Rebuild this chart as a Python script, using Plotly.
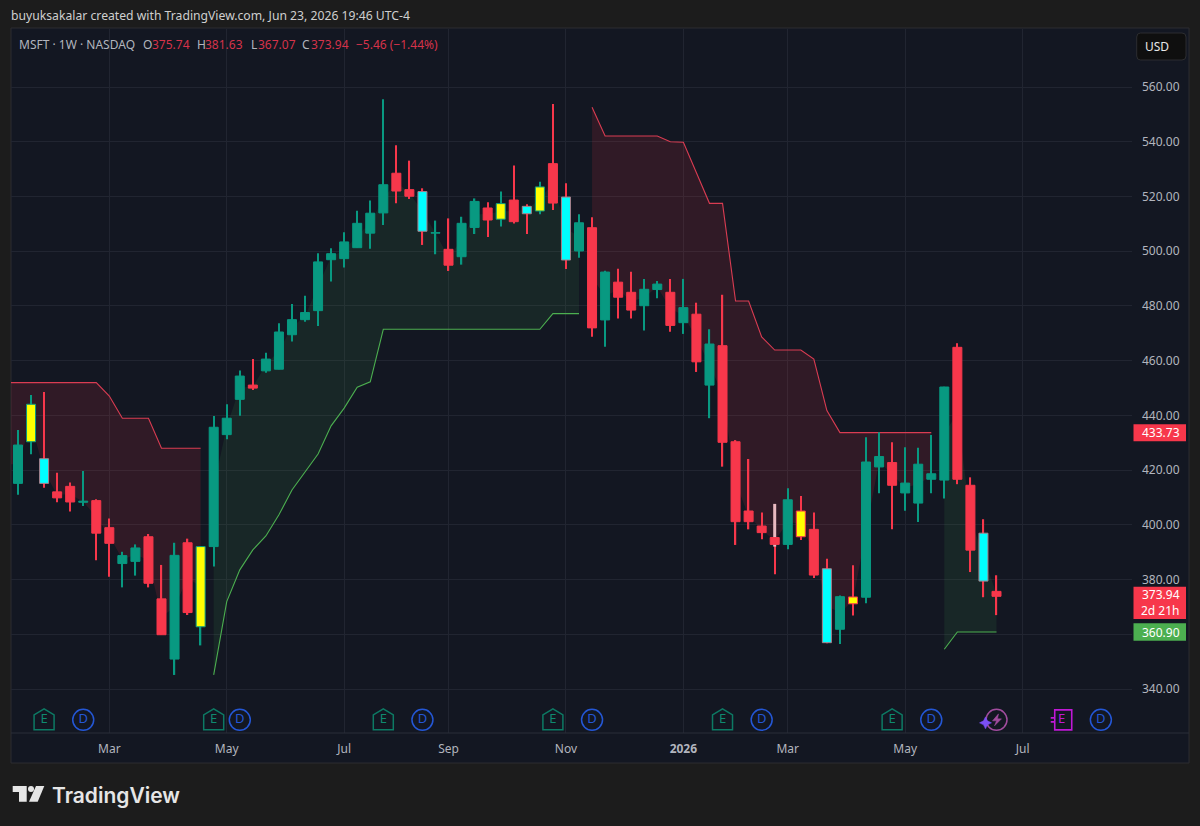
import datetime as dt
import plotly.graph_objects as go

# ---------- data (weekly MSFT candles) ----------
first_week = dt.date(2025, 1, 13)
opens = [415.2,430.4,424.2,412.1,414.1,408.3,408.9,399.0,385.9,386.7,395.7,373.0,351.0,393.5,362.8,392.1,433.0,445.9,451.1,456.3,
         456.9,469.5,475.0,478.3,496.9,497.3,501.3,506.6,514.0,528.5,522.5,521.8,506.6,500.7,498.0,508.7,515.8,511.7,518.7,516.4,
         514.7,532.0,519.8,500.1,508.6,474.9,488.7,485.0,480.1,486.0,485.0,473.9,477.0,451.1,465.5,430.4,405.1,399.6,395.4,392.9,
         405.1,398.4,384.0,361.9,373.7,373.6,421.2,422.8,411.7,408.0,416.7,416.4,464.9,414.5,397.0,375.74]
highs = [434.7,447.5,448.6,419.1,415.5,419.7,409.4,402.4,390.2,392.9,396.7,385.4,393.5,395.0,392.3,439.8,444.1,456.4,460.6,462.9,
         473.7,480.7,483.7,499.3,501.1,506.9,514.8,518.5,555.5,538.7,533.1,523.0,511.2,512.0,512.6,519.3,517.9,521.8,531.3,517.2,
         525.4,553.8,524.8,513.5,512.4,492.9,493.6,492.5,489.9,489.1,489.9,489.9,481.2,471.5,484.1,431.0,424.1,404.6,407.7,413.4,
         410.6,404.6,387.7,374.2,385.3,432.0,433.9,430.2,428.4,428.2,432.9,450.5,466.4,417.4,402.1,381.63]
lows = [411.0,425.8,413.6,408.3,404.9,406.9,387.1,381.1,377.2,381.5,377.2,359.9,345.2,367.1,356.0,384.8,431.3,439.9,449.3,455.6,
        456.9,467.0,474.2,472.7,488.9,494.1,501.3,500.9,509.6,517.5,519.1,502.3,498.9,492.8,495.1,506.3,505.2,509.0,510.1,506.3,
        513.5,515.1,493.5,497.6,468.8,465.1,475.4,475.4,471.0,482.8,470.6,469.8,455.9,439.0,421.3,392.7,398.4,394.8,382.0,391.1,
        394.5,380.6,356.8,356.5,366.9,371.4,411.6,398.4,405.2,401.1,411.6,409.7,414.9,382.8,373.6,367.07]
closes = [429.2,444.1,415.2,409.9,408.4,408.7,397.0,393.3,388.8,391.6,378.7,359.9,388.9,368.0,392.1,435.7,439.0,454.4,450.0,460.6,
          470.5,475.0,477.6,496.1,499.1,503.4,510.2,513.9,524.3,522.0,520.1,507.3,506.8,494.9,510.2,518.2,511.4,517.4,510.8,513.7,
          523.5,517.6,496.8,510.4,472.0,492.4,483.2,478.5,486.1,488.0,472.9,479.4,459.6,466.1,430.2,401.2,401.2,397.2,392.9,409.2,
          395.7,381.7,357.0,373.8,371.2,423.0,425.0,414.5,415.3,422.2,418.7,450.4,416.7,390.8,379.5,373.94]
yellow_weeks = [1, 14, 37, 40, 60, 64]
cyan_weeks = [2, 31, 39, 42, 62, 74]
pale_week = 58
pale_low, pale_high = 392.1, 407.7

# supertrend segments: (first week index, values)
st_down_a = (-1, [452.0]*8 + [447.1, 439.0, 439.0, 439.0, 428.0, 428.0, 428.0, 428.0])
st_up_a = (15, [345.2,372.0,383.6,390.9,396.0,403.7,412.8,419.4,425.9,436.2,442.7,450.3,452.3] + [471.5]*13 + [477.2]*3)
st_down_b = (44, [552.6,542.1,542.1,542.1,542.1,542.1,540.0,539.8,528.7,517.5,517.5,481.8,481.8,468.7,463.9,463.9,463.9,460.6,441.8] + [433.73]*8)
st_up_b = (71, [354.6, 360.9, 360.9, 360.9, 360.9])

earnings_weeks = [2, 15, 28, 41, 54, 67]
dividend_weeks = [5, 17, 31, 44, 57, 70]
future_earnings_week = 80
future_dividend_week = 83
latest_event_week = 75

x_tick_weeks = [7, 16, 25, 33, 42, 51, 59, 68, 77]
x_tick_text = ["Mar", "May", "Jul", "Sep", "Nov", "<b>2026</b>", "Mar", "May", "Jul"]
y_ticks = list(range(340, 561, 20))

# ---------- style ----------
BG, PANEL, GRID, FRAME = "#1c1c1c", "#131722", "#212531", "#2c2d30"
UP, DOWN, YEL, CYAN, PALE = "#089981", "#f7374b", "#ffff00", "#00ffff", "#e9b9c0"
TXT, SOFT = "#d1d4dc", "#b2b5be"
FONT = "Noto Sans"
L, R, T, B = 11, 1132, 29, 733
EVENT_Y = 328.8

def week(i):
    return (first_week + dt.timedelta(days=7 * i)).isoformat()

def px(x):
    return (x - L) / (R - L)

def py(y):
    return 1 - (y - T) / (B - T)

DAY_PX = 13.047 / 7
def width_ms(pixels):
    return pixels / DAY_PX * 86400000

n = len(opens)
dates = [week(i) for i in range(n)]
mid = [(o + c) / 2 for o, c in zip(opens, closes)]
rising = [c >= o for o, c in zip(opens, closes)]
dir_col = [UP if r else DOWN for r in rising]
body_col = list(dir_col)
for i in yellow_weeks:
    body_col[i] = YEL
for i in cyan_weeks:
    body_col[i] = CYAN
border_col = list(dir_col)
for i in cyan_weeks:
    border_col[i] = "#a8808c"

fig = go.Figure()

# supertrend band, under the candles
def band(seg, colour, fill):
    start, vals = seg
    idx = list(range(start, start + len(vals)))
    xs = [week(i) for i in idx]
    base = [mid[max(i, 0)] for i in idx]
    fig.add_trace(go.Scatter(x=xs, y=base, mode="lines", line=dict(width=0), hoverinfo="skip", showlegend=False))
    fig.add_trace(go.Scatter(x=xs, y=vals, mode="lines", line=dict(color=colour, width=1.1), fill="tonexty",
                             fillcolor=fill, hoverinfo="skip", showlegend=False))

RF, GF = "rgba(242,54,69,0.135)", "rgba(76,175,80,0.11)"
RL, GL = "#d93c52", "#4caf50"
band(st_down_a, RL, RF)
band(st_up_a, GL, GF)
band(st_down_b, RL, RF)
band(st_up_b, GL, GF)

# candles: on an overlaid y axis so they sit above the bands
fig.add_trace(go.Bar(x=dates, y=[h - l for h, l in zip(highs, lows)], base=lows, width=width_ms(1.3),
                     marker=dict(color=dir_col, line=dict(width=0)), yaxis="y2", showlegend=False))
fig.add_trace(go.Bar(x=[dates[pale_week]], y=[pale_high - pale_low], base=[pale_low], width=width_ms(3),
                     marker=dict(color=PALE, line=dict(width=0)), yaxis="y2", showlegend=False))
fig.add_trace(go.Bar(x=dates, y=[abs(c - o) for o, c in zip(opens, closes)], base=[min(o, c) for o, c in zip(opens, closes)],
                     width=width_ms(9.0), marker=dict(color=body_col, line=dict(color=border_col, width=1)),
                     yaxis="y2", showlegend=False))

# event badges
DBLUE = "#2457d6"
fig.add_trace(go.Scatter(x=[week(i) for i in dividend_weeks + [future_dividend_week]],
                         y=[EVENT_Y] * (len(dividend_weeks) + 1), mode="markers+text", text=["D"] * (len(dividend_weeks) + 1),
                         textfont=dict(color=DBLUE, size=13, family=FONT), textposition="middle center",
                         marker=dict(symbol="circle-open", size=21, color=DBLUE, line=dict(width=1.5, color=DBLUE)),
                         yaxis="y2", showlegend=False, hoverinfo="skip"))
fig.add_trace(go.Scatter(x=[week(i) for i in earnings_weeks], y=[EVENT_Y] * len(earnings_weeks), mode="text",
                         text=["E"] * len(earnings_weeks), textfont=dict(color="#0f8a70", size=13, family=FONT),
                         textposition="middle center", yaxis="y2", showlegend=False, hoverinfo="skip"))
fig.add_trace(go.Scatter(x=[week(future_earnings_week)], y=[EVENT_Y], mode="text", text=["E"],
                         textfont=dict(color="#c018d6", size=13, family=FONT), textposition="middle center",
                         yaxis="y2", showlegend=False, hoverinfo="skip"))
fig.add_trace(go.Scatter(x=[week(latest_event_week)], y=[EVENT_Y], mode="markers",
                         marker=dict(symbol="circle-open", size=21, color="#a14c9e", line=dict(width=1.5, color="#a14c9e")),
                         yaxis="y2", showlegend=False, hoverinfo="skip"))

shapes = []

def paper_rect(x0, y0, x1, y1, fill, line=None, layer="below"):
    shapes.append(dict(type="rect", xref="paper", yref="paper", x0=px(x0), x1=px(x1), y0=py(y0), y1=py(y1),
                       fillcolor=fill, line=dict(color=line or fill, width=1 if line else 0), layer=layer))

def paper_path(points, fill, layer="above"):
    d = "M " + " L ".join(f"{px(a):.5f},{py(b):.5f}" for a, b in points) + " Z"
    shapes.append(dict(type="path", xref="paper", yref="paper", path=d, fillcolor=fill, line=dict(width=0), layer=layer))

def anchored(week_i, path, colour, fill=None, width=1.5):
    shapes.append(dict(type="path", xref="x", yref="y", xsizemode="pixel", ysizemode="pixel", xanchor=week(week_i),
                       yanchor=EVENT_Y, path=path, line=dict(color=colour, width=width),
                       fillcolor=fill or "rgba(0,0,0,0)", layer="above"))

# outer panel incl. price and time scales
paper_rect(11, 28, 1189, 763, PANEL, FRAME)
for i in earnings_weeks:
    anchored(i, "M -10,-10 L -10,5 L 0,11 L 10,5 L 10,-10 Z", "#0d7a64")
anchored(future_earnings_week, "M -7,10 L 10,10 L 10,-10 L -7,-10 Z M -11,2 L -7,2 M -11,-2 L -7,-2", "#c018d6", width=1.6)
anchored(latest_event_week, "M 2,6 L -4,-1 L 0,-1 L -2,-6 L 5,1 L 1,1 Z", "#a14c9e", fill="#a14c9e", width=0.5)
anchored(latest_event_week, "M -11,-9 L -9,-5 L -5,-3 L -9,-1 L -11,3 L -13,-1 L -17,-3 L -13,-5 Z", "#7b4ff5", fill="#7b4ff5", width=0.5)
# scale separator
shapes.append(dict(type="line", xref="paper", yref="paper", x0=px(11), x1=px(1189), y0=py(733), y1=py(733),
                   line=dict(color="#2a2e39", width=1), layer="above"))
# price tags
paper_rect(1133.5, 424.2, 1186, 441.2, "#f7374b", layer="above")
paper_rect(1133.5, 586.7, 1186, 619, "#f7374b", layer="above")
paper_rect(1133.5, 623.3, 1186, 640.7, "#4caf50", layer="above")
# USD button
shapes.append(dict(type="path", xref="paper", yref="paper",
                   path="M {a},{t} L {b},{t} Q {c},{t} {c},{u} L {c},{v} Q {c},{d} {b},{d} L {a},{d} Q {e},{d} {e},{v} L {e},{u} Q {e},{t} {a},{t} Z".format(
                       a=px(1140.5), b=px(1182), c=px(1186), e=px(1136.7), t=py(33), u=py(37), v=py(56), d=py(60)),
                   fillcolor="#0f0f0f", line=dict(color="#2c2d30", width=1), layer="above"))
# TradingView mark
paper_path([(12.7, 786), (26.7, 786), (26.7, 801.7), (19, 801.7), (19, 792), (12.7, 792)], "#e6e6e6")
paper_path([(36, 786), (44.3, 786), (37.7, 801.7), (29, 801.7)], "#e6e6e6")
shapes.append(dict(type="circle", xref="paper", yref="paper", x0=px(28), x1=px(34), y0=py(786), y1=py(792),
                   fillcolor="#e6e6e6", line=dict(width=0), layer="above"))

ann = []

def label(x, y, text, colour=TXT, size=12, anchor="left", family=FONT, weight=None):
    f = dict(color=colour, size=size, family=family)
    if weight:
        f["weight"] = weight
    ann.append(dict(xref="paper", yref="paper", x=px(x), y=py(y), text=text, showarrow=False, xanchor=anchor, yanchor="middle",
                    font=f, borderpad=0, borderwidth=0, align=anchor))

label(11, 16, "buyuksakalar created with TradingView.com, Jun 23, 2026 19:46 UTC-4", "#cfcfcf", 12.2)
label(19, 45, "MSFT · 1W · NASDAQ", SOFT, 12)
OHLC_RED = "#d6334a"
for xa, tag, xb, val in [(143, "O", 152, "375.74"), (197, "H", 205, "381.63"), (251, "L", 258, "367.07"), (302, "C", 311, "373.94")]:
    label(xa, 45, tag, SOFT, 12)
    label(xb, 45, val, OHLC_RED, 12)
label(356, 45, "−5.46 (−1.44%)", OHLC_RED, 12)
label(1157, 46, "USD", "#e8e8e8", 12, "center")
label(1180, 432.7, "433.73", "#ffffff", 12, "right")
label(1180, 602.8, "373.94<br>2d 21h", "#ffffff", 12, "right")
label(1180, 632, "360.90", "#ffffff", 12, "right")
label(52, 795, "TradingView", "#e6e6e6", 21, family="Inter", weight=600)

axis_font = dict(color=SOFT, size=12, family=FONT)
y_range = [324.0, 581.19]
fig.update_layout(
    width=1200, height=826, margin=dict(l=L, r=1200 - R, t=T, b=826 - B),
    paper_bgcolor=BG, plot_bgcolor="rgba(0,0,0,0)", barmode="overlay", showlegend=False,
    xaxis=dict(type="date", range=["2025-01-09 06:00", "2026-09-02 16:48"], tickvals=[week(i) for i in x_tick_weeks],
               ticktext=x_tick_text, tickfont=axis_font, showgrid=True, gridcolor=GRID, gridwidth=1, zeroline=False,
               showline=False, ticks="", ticklabelstandoff=7, fixedrange=True),
    yaxis=dict(range=y_range, side="right", tickvals=y_ticks, ticktext=[f"{v:.2f}" for v in y_ticks], tickfont=axis_font,
               showgrid=True, gridcolor=GRID, gridwidth=1, zeroline=False, showline=False, ticks="", ticklabelstandoff=9),
    yaxis2=dict(range=y_range, overlaying="y", side="right", showticklabels=False, showgrid=False, zeroline=False, ticks=""),
    shapes=shapes, annotations=ann, font=dict(family=FONT),
)
fig.write_html("out.html", config={"displayModeBar": False},
               post_script="document.body.style.margin='0';document.body.style.overflow='hidden';")
